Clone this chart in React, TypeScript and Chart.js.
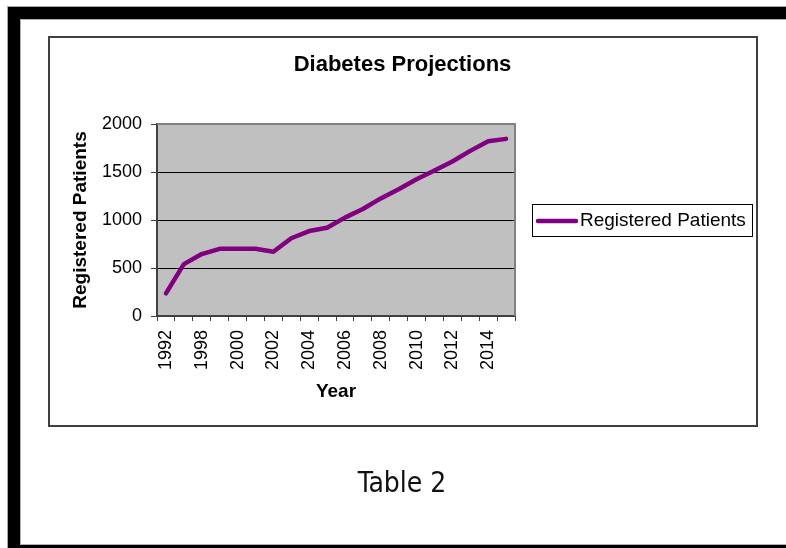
import React, { useEffect, useRef } from 'react';
import { Chart, registerables } from 'chart.js';

Chart.register(...registerables);

// ---- data ----
const years = ['1992', '1997', '1998', '1999', '2000', '2001', '2002', '2003', '2004', '2005',
  '2006', '2007', '2008', '2009', '2010', '2011', '2012', '2013', '2014', '2015'];
const registeredPatients = [235, 540, 645, 700, 700, 700, 670, 810, 885, 920,
  1025, 1115, 1225, 1320, 1425, 1515, 1610, 1720, 1820, 1845];
const yTickValues = [0, 500, 1000, 1500, 2000];
const seriesName = 'Registered Patients';
const chartTitle = 'Diabetes Projections';
const xAxisTitle = 'Year';
const yAxisTitle = 'Registered Patients';
const captionText = 'Table 2';

const FONT = "'Liberation Sans', Arial, Helvetica, sans-serif";
const PURPLE = '#800080';

const plotBackground = {
  id: 'plotBackground',
  beforeDraw(chart: any) {
    const { ctx, chartArea: a } = chart;
    ctx.save();
    ctx.fillStyle = '#C0C0C0';
    ctx.fillRect(a.left, a.top, a.right - a.left, a.bottom - a.top);
    ctx.restore();
  },
  beforeDatasetsDraw(chart: any) {
    const { ctx, chartArea: a } = chart;
    ctx.save();
    ctx.strokeStyle = '#808080';
    ctx.lineWidth = 2;
    ctx.beginPath();
    ctx.moveTo(a.left, a.top);
    ctx.lineTo(a.right, a.top);
    ctx.lineTo(a.right, a.bottom);
    ctx.stroke();
    ctx.restore();
  },
};

const boxedLegend = {
  id: 'boxedLegend',
  afterDraw(chart: any) {
    const { ctx, chartArea: a } = chart;
    const ds = chart.data.datasets[0];
    const left = a.right + 17;
    const cy = (a.top + a.bottom) / 2;
    const w = 220;
    const h = 32;
    ctx.save();
    ctx.strokeStyle = '#000';
    ctx.lineWidth = 1;
    ctx.strokeRect(left + 0.5, cy - h / 2 + 0.5, w, h);
    ctx.strokeStyle = ds.borderColor;
    ctx.lineWidth = 4.5;
    ctx.lineCap = 'round';
    ctx.beginPath();
    ctx.moveTo(left + 6, cy + 1);
    ctx.lineTo(left + 44, cy + 1);
    ctx.stroke();
    ctx.fillStyle = '#000';
    ctx.font = `19px ${FONT}`;
    ctx.textBaseline = 'middle';
    ctx.textAlign = 'left';
    ctx.fillText(ds.label, left + 48, cy + 1);
    ctx.restore();
  },
};

function ChartCanvas() {
  const ref = useRef<HTMLCanvasElement | null>(null);
  useEffect(() => {
    if (!ref.current) return;
    Chart.defaults.font.family = FONT;
    Chart.defaults.color = '#000';
    const chart = new Chart(ref.current, {
      type: 'line',
      data: {
        labels: years,
        datasets: [
          {
            label: seriesName,
            data: registeredPatients,
            borderColor: PURPLE,
            backgroundColor: PURPLE,
            borderWidth: 4.5,
            pointRadius: 0,
            tension: 0,
            borderCapStyle: 'round',
            borderJoinStyle: 'round',
            yAxisID: 'y',
          },
        ],
      },
      options: {
        responsive: false,
        animation: false,
        devicePixelRatio: 1,
        layout: { padding: { left: 69, right: 50, top: 52, bottom: 145 } },
        plugins: {
          legend: { display: false },
          tooltip: { enabled: false },
          title: {
            display: true,
            text: chartTitle,
            color: '#000',
            font: { size: 22, weight: 'bold', family: FONT },
            padding: { top: 0, bottom: 45.6 },
          },
        },
        scales: {
          x: {
            offset: true,
            grid: {
              offset: true,
              drawOnChartArea: false,
              drawTicks: true,
              tickLength: 5,
              color: '#404040',
              lineWidth: 1,
            },
            border: { display: true, color: '#404040', width: 2 },
            ticks: {
              autoSkip: false,
              minRotation: 90,
              maxRotation: 90,
              padding: 9,
              color: '#000',
              font: { size: 18, family: FONT },
              callback: (_v: any, i: number) => (i % 2 === 0 ? years[i] : ''),
            },
            title: {
              display: true,
              text: xAxisTitle,
              color: '#000',
              font: { size: 19, weight: 'bold', family: FONT },
              padding: { top: 0, bottom: 0 },
            },
            afterFit(scale: any) {
              scale.height = 87;
            },
          },
          y: {
            position: 'left',
            min: yTickValues[0],
            max: yTickValues[yTickValues.length - 1],
            ticks: {
              stepSize: yTickValues[1] - yTickValues[0],
              padding: 9,
              color: '#000',
              font: { size: 18, family: FONT },
              callback: (v: any) => String(v),
            },
            grid: {
              drawTicks: true,
              tickLength: 6,
              tickColor: '#404040',
              lineWidth: 1,
              color: (c: any) =>
                c.tick && c.tick.value === yTickValues[yTickValues.length - 1]
                  ? '#808080'
                  : c.tick && c.tick.value === 0
                  ? '#404040'
                  : '#000',
            },
            border: { display: true, color: '#404040', width: 2 },
            title: {
              display: true,
              text: yAxisTitle,
              color: '#000',
              font: { size: 19, weight: 'bold', family: FONT },
              padding: { top: 0, bottom: 0 },
            },
            afterFit(scale: any) {
              scale.width = 88;
            },
          },
          legendSpace: {
            position: 'right',
            display: true,
            grid: { display: false },
            border: { display: false },
            ticks: { display: false },
            afterFit(scale: any) {
              scale.width = 221;
            },
          },
        },
      } as any,
      plugins: [plotBackground, boxedLegend],
    });
    return () => chart.destroy();
  }, []);
  return (
    <canvas
      ref={ref}
      width={786}
      height={548}
      style={{ position: 'absolute', left: 0, top: 0, width: 786, height: 548 }}
    />
  );
}

export default function App() {
  return (
    <div
      style={{
        position: 'fixed',
        left: 0,
        top: 0,
        width: 786,
        height: 548,
        overflow: 'hidden',
        background: '#fff',
      }}
    >
      <div
        style={{
          position: 'absolute',
          left: 8,
          top: 7,
          width: 820,
          height: 550,
          boxSizing: 'border-box',
          border: '12px solid #000',
          boxShadow: '0 0 0 1px #a8a8a8, inset 0 0 0 1px #b0b0b0',
        }}
      />
      <div
        style={{
          position: 'absolute',
          left: 48,
          top: 36,
          width: 710,
          height: 391,
          boxSizing: 'border-box',
          border: '2px solid #404040',
        }}
      />
      <ChartCanvas />
      <div
        style={{
          position: 'absolute',
          left: 302,
          width: 200,
          top: 466,
          textAlign: 'center',
          fontFamily: "'Liberation Sans Narrow', 'DejaVu Sans Condensed', 'Liberation Sans', sans-serif",
          fontSize: 28,
          lineHeight: '34px',
          color: '#111',
        }}
      >
        {captionText}
      </div>
    </div>
  );
}
